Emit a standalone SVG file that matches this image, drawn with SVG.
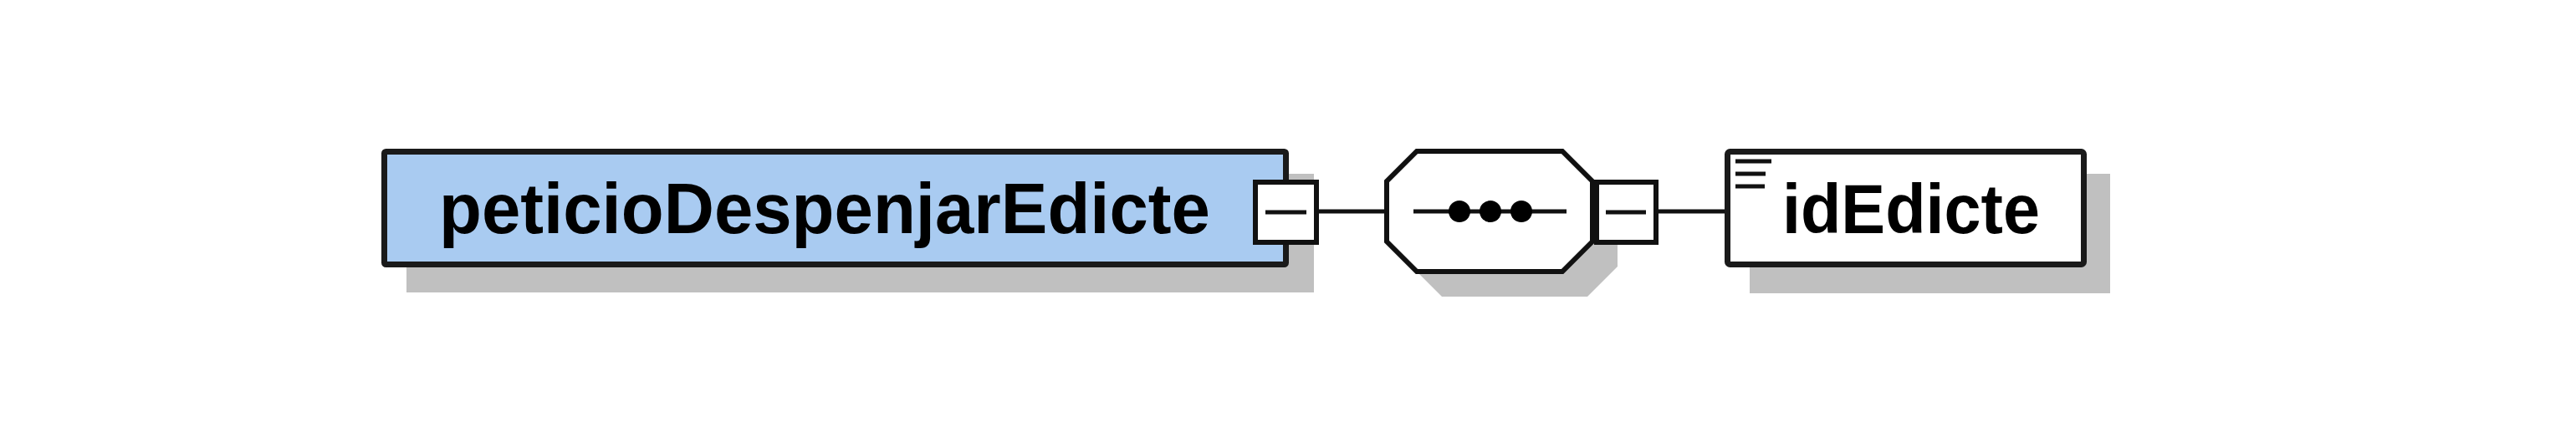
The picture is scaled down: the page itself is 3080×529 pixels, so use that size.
<svg xmlns="http://www.w3.org/2000/svg" width="3080" height="529" viewBox="0 0 3080 529">
<style>
.shadow{fill:#c0c0c0;stroke:none}
.box{stroke:#1a1a1a;stroke-width:7}
.btn{fill:#ffffff;stroke:#111;stroke-width:6}
.bar{stroke:#111;stroke-width:5;fill:none}
.conn{stroke:#111;stroke-width:5;fill:none}
.lbl{font-family:"Liberation Sans",Arial,sans-serif;font-weight:bold;fill:#000}
</style>
<rect width="3080" height="529" fill="#ffffff"/>
<g id="connectors">
<line class="conn" x1="1577" y1="253" x2="1658" y2="253"/>
<line class="conn" x1="1983" y1="253" x2="2065" y2="253"/>
</g>
<g id="peticioDespenjarEdicte">
<rect class="shadow" x="486" y="208" width="1085" height="142"/>
<rect class="box" x="459.5" y="181.5" width="1078" height="135" rx="2" fill="#a9cbf1"/>
<text class="lbl" x="525" y="279" font-size="85" textLength="922" lengthAdjust="spacingAndGlyphs">peticioDespenjarEdicte</text>
<rect class="btn" x="1501" y="218" width="73" height="72"/>
<line class="bar" x1="1513" y1="254" x2="1562" y2="254"/>
</g>
<g id="sequence">
<polygon class="shadow" points="1724,211 1898,211 1934,247 1934,319 1898,355 1724,355 1688,319 1688,247"/>
<polygon points="1694,181 1868,181 1904,217 1904,289 1868,325 1694,325 1658,289 1658,217" fill="#ffffff" stroke="#111" stroke-width="6"/>
<line class="bar" x1="1690" y1="253" x2="1873" y2="253"/>
<circle cx="1745" cy="253" r="13" fill="#000"/>
<circle cx="1782" cy="253" r="13" fill="#000"/>
<circle cx="1819" cy="253" r="13" fill="#000"/>
<rect class="btn" x="1909" y="218" width="71" height="72"/>
<line class="bar" x1="1920" y1="254" x2="1968" y2="254"/>
</g>
<g id="idEdicte">
<rect class="shadow" x="2092" y="208" width="431" height="143"/>
<rect class="box" x="2065.5" y="181.5" width="426" height="135" rx="3" fill="#ffffff"/>
<line class="bar" x1="2075" y1="193" x2="2118" y2="193"/>
<line class="bar" x1="2075" y1="208" x2="2111" y2="208"/>
<line class="bar" x1="2075" y1="223" x2="2110" y2="223"/>
<text class="lbl" x="2131" y="279" font-size="84" textLength="308" lengthAdjust="spacingAndGlyphs">idEdicte</text>
</g>
</svg>
